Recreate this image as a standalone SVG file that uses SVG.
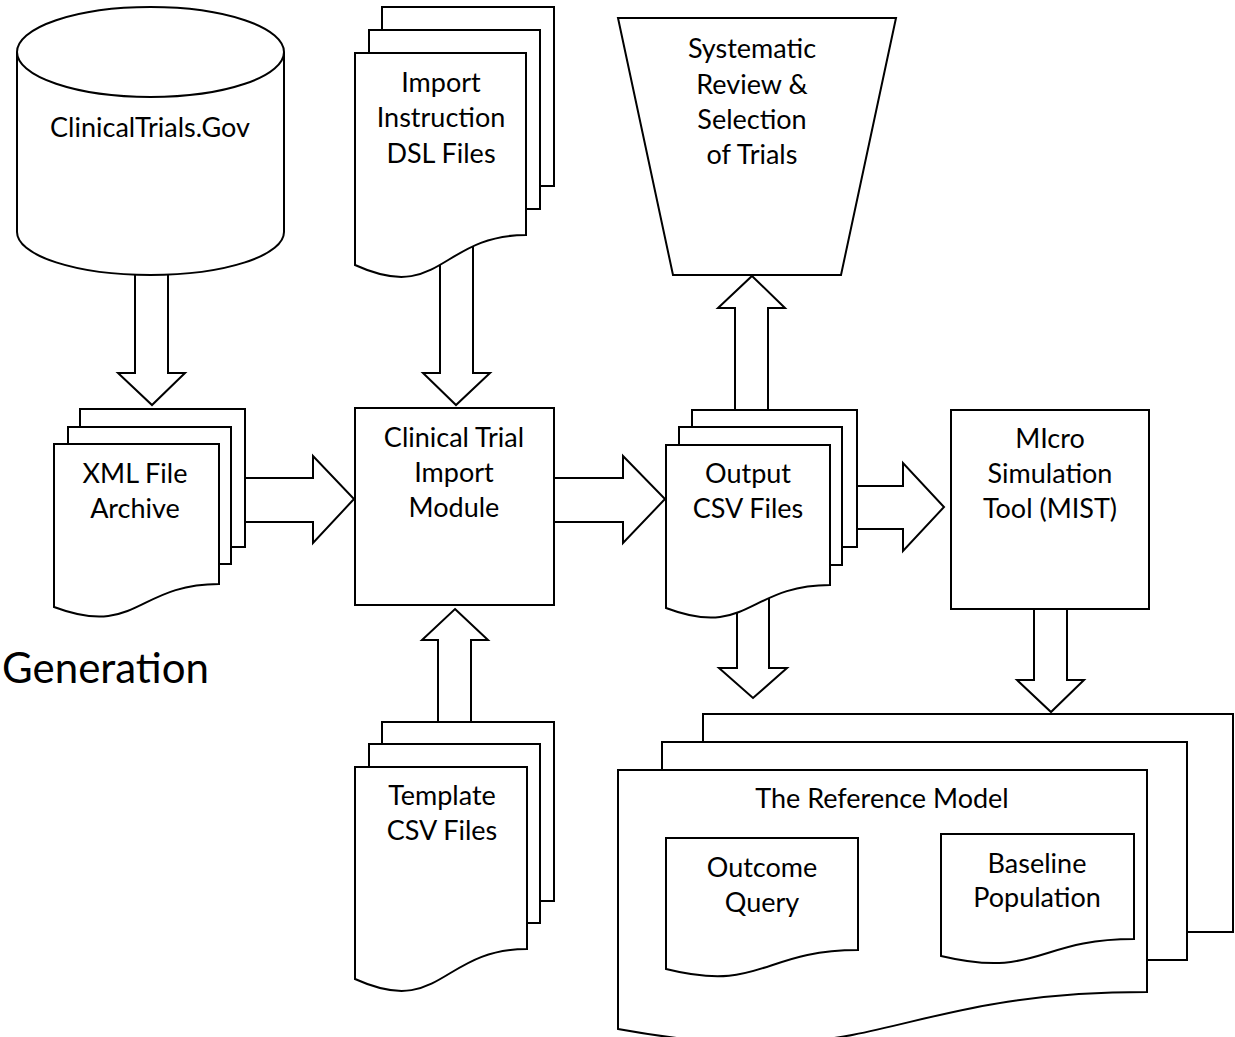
<svg xmlns="http://www.w3.org/2000/svg" width="1235" height="1037" viewBox="0 0 1235 1037">
<style>
.s{fill:#fff;stroke:#000;stroke-width:2;stroke-linejoin:miter}
.a{fill:#fff;stroke:#000;stroke-width:2;stroke-linejoin:miter}
text{font-family:Lato,"Open Sans","Liberation Sans",sans-serif;font-size:27px;fill:#000;text-anchor:middle}
</style>
<rect width="1235" height="1037" fill="#fff"/>
<g id="connectors">
<polygon class="a" points="135,265 168,265 168,373 185,373 152,405 118,373 135,373"/>
<polygon class="a" points="440,235 473,235 473,373 490,373 456,405 423,373 440,373"/>
<polygon class="a" points="235,478 313,478 313,456 354,499 313,543 313,522 235,522"/>
<polygon class="a" points="554,478 623,478 623,456 665,499 623,543 623,522 554,522"/>
<polygon class="a" points="455,609 488,640 471,640 471,726 438,726 438,640 422,640"/>
<polygon class="a" points="752,276 785,308 768,308 768,412 735,412 735,308 718,308"/>
<polygon class="a" points="737,590 769,590 769,668 787,668 753,698 719,668 737,668"/>
<polygon class="a" points="845,486 903,486 903,463 944,507 903,551 903,529 845,529"/>
<polygon class="a" points="1034,609 1067,609 1067,680 1084,680 1051,712 1017,680 1034,680"/>
</g>
<g id="clinicaltrials">
<path class="s" d="M17,52 L17,232 A133.5,43 0 0 0 284,232 L284,52 A133.5,45 0 0 0 17,52 Z"/>
<path class="s" d="M17,52 A133.5,45 0 0 0 284,52" fill="none"/>
<text x="150" y="137">ClinicalTrials.Gov</text>
</g>
<g id="dsl">
<rect class="s" x="382" y="7" width="172" height="179"/>
<rect class="s" x="369" y="30" width="171" height="179"/>
<path class="s" d="M355,53 H526 V235 C440.5,235 440.5,304 355,265 Z"/>
<text x="441" y="92">Import</text>
<text x="441" y="127">Instruction</text>
<text x="441" y="163">DSL Files</text>
</g>
<g id="review">
<polygon class="s" points="618,18 896,18 841,275 673,275"/>
<text x="752" y="58">Systematic</text>
<text x="752" y="94">Review &amp;</text>
<text x="752" y="129">Selection</text>
<text x="752" y="164">of Trials</text>
</g>
<g id="xml">
<rect class="s" x="80" y="409" width="165" height="138"/>
<rect class="s" x="68" y="427" width="163" height="137"/>
<path class="s" d="M54,444 H219 V584 C136.5,584 136.5,638 54,607 Z"/>
<text x="135" y="483">XML File</text>
<text x="135" y="518">Archive</text>
</g>
<g id="module">
<rect class="s" x="355" y="408" width="199" height="197"/>
<text x="454" y="447">Clinical Trial</text>
<text x="454" y="482">Import</text>
<text x="454" y="517">Module</text>
</g>
<g id="output">
<rect class="s" x="692" y="410" width="165" height="137"/>
<rect class="s" x="679" y="427" width="163" height="138"/>
<path class="s" d="M666,445 H830 V585 C748,585 748,639 666,608 Z"/>
<text x="748" y="483">Output</text>
<text x="748" y="518">CSV Files</text>
</g>
<g id="mist">
<rect class="s" x="951" y="410" width="198" height="199"/>
<text x="1050" y="448">MIcro</text>
<text x="1050" y="483">Simulation</text>
<text x="1050" y="518">Tool (MIST)</text>
</g>
<g id="template">
<rect class="s" x="382" y="722" width="172" height="179"/>
<rect class="s" x="369" y="744" width="171" height="179"/>
<path class="s" d="M355,767 H527 V949 C441,949 441,1018 355,979 Z"/>
<text x="442" y="805">Template</text>
<text x="442" y="840">CSV Files</text>
</g>
<g id="reference">
<rect class="s" x="703" y="714" width="530" height="218"/>
<rect class="s" x="662" y="742" width="525" height="218"/>
<path class="s" d="M618,770 H1147 V992 C882.5,992 882.5,1077 618,1029 Z"/>
<text x="882" y="808">The Reference Model</text>
</g>
<g id="outcome">
<path class="s" d="M666,838 H858 V950 C762,950 762,993 666,969 Z"/>
<text x="762" y="877">Outcome</text>
<text x="762" y="912">Query</text>
</g>
<g id="baseline">
<path class="s" d="M941,834 H1134 V939 C1037.5,939 1037.5,979 941,956 Z"/>
<text x="1037" y="873">Baseline</text>
<text x="1037" y="907">Population</text>
</g>
<g id="generation">
<text x="209" y="683" style="font-size:42px;text-anchor:end">Generation</text>
</g>
</svg>
